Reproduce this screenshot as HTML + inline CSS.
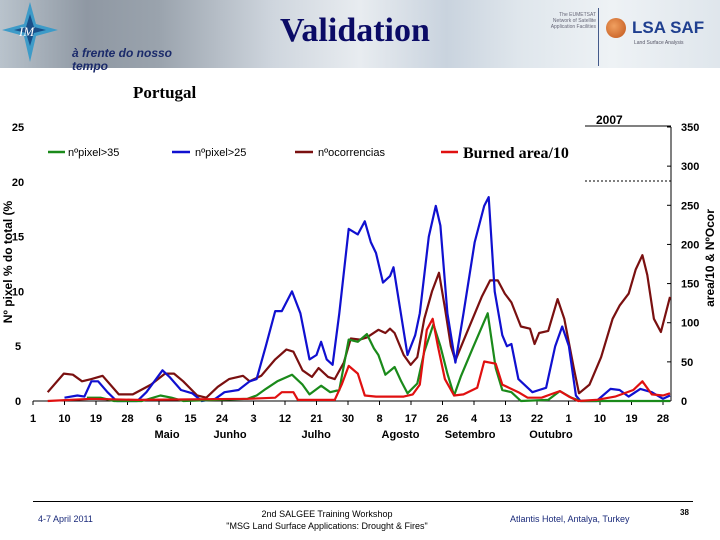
<!DOCTYPE html>
<html><head><meta charset="utf-8">
<style>
html,body{margin:0;padding:0;background:#fff;}
body{width:720px;height:540px;position:relative;overflow:hidden;font-family:"Liberation Sans",sans-serif;}
.abs{position:absolute;}
</style></head><body>
<div class="abs" style="left:0;top:0;width:720px;height:68px;background:linear-gradient(90deg,#b9c3cc 0%,#8f98a3 12%,#9aa3ad 22%,#cfd6de 38%,#e8ecf0 50%,#c9d3de 62%,#dfe6ec 72%,#eef2f5 85%,#dfe6ec 100%);"></div>
<svg class="abs" style="left:0;top:0" width="60" height="68">
<polygon points="30,2 36,24 58,30 36,36 30,62 24,36 2,30 24,24" fill="#3d9bc8"/>
<polygon points="30,14 34,27 46,30 34,33 30,46 26,33 14,30 26,27" fill="#1a4f88"/>
<text x="19" y="36" font-family="Liberation Serif" font-style="italic" font-size="13" fill="#fff">IM</text>
</svg>
<div class="abs" style="left:72px;top:47px;font-size:12px;font-style:italic;font-weight:bold;color:#1a2a6a;line-height:13px;">à frente do nosso<br>tempo</div>
<div class="abs" style="left:280px;top:12px;font-family:'Liberation Serif',serif;font-weight:bold;font-size:34px;color:#0b0b66;">Validation</div>
<div class="abs" style="left:540px;top:12px;width:56px;font-size:5px;color:#667;text-align:right;line-height:6px;">The EUMETSAT Network of Satellite Application Facilities</div>
<div class="abs" style="left:598px;top:8px;width:1px;height:58px;background:#445a8a;"></div>
<div class="abs" style="left:606px;top:18px;width:20px;height:20px;border-radius:50%;background:radial-gradient(circle at 40% 40%,#f0a060,#c0541a);"></div>
<div class="abs" style="left:632px;top:18px;font-size:17px;font-weight:bold;color:#1f3f8f;">LSA SAF</div>
<div class="abs" style="left:634px;top:40px;font-size:5px;color:#556;">Land Surface Analysis</div>
<div class="abs" style="left:133px;top:83px;font-family:'Liberation Serif',serif;font-weight:bold;font-size:17px;color:#000;">Portugal</div>

<svg id="chart" class="abs" style="left:0;top:0" width="720" height="460"></svg>

<div class="abs" style="left:33px;top:501px;width:660px;height:1px;background:#000;"></div>
<div class="abs" style="left:38px;top:514px;font-size:9px;color:#1a2a7a;">4-7 April 2011</div>
<div class="abs" style="left:200px;top:508px;width:254px;text-align:center;font-size:9px;color:#000;line-height:12px;">2nd SALGEE Training Workshop<br>"MSG Land Surface Applications: Drought &amp; Fires"</div>
<div class="abs" style="left:510px;top:514px;font-size:9px;color:#1a2a7a;">Atlantis Hotel, Antalya, Turkey</div>
<div class="abs" style="left:680px;top:508px;font-size:8px;font-weight:bold;color:#000;">38</div>

<script>
const xTickLabels=["1","10","19","28","6","15","24","3","12","21","30","8","17","26","4","13","22","1","10","19","28"];
const monthLabels=["Maio","Junho","Julho","Agosto","Setembro","Outubro"];
const monthDays=[38.3,56.3,80.9,105,124.9,148];
const leftTicks=[0,5,10,15,20,25];
const rightTicks=[0,50,100,150,200,250,300,350];
const blueDays=[9,12.7,14.7,16.7,18.6,21.3,23.9,29.8,32.4,37,39,42.3,45.5,48.2,52.1,54.7,58.7,61.9,63.9,66.5,69.2,71.1,74,76.4,79,81,82.3,83.9,85.6,87.5,90.2,92.8,94.8,96.5,98,100,102,103,104.6,107,109.2,110.5,113.1,115.1,116.4,118.4,120.7,123,126.2,128.9,130.2,131.9,134.1,135.4,136.7,138.7,142.7,144.6,146.6,149.2,151.2,153.1,155.1,156.4,161,165,167.6,170.2,173.5,176.8,180,182];
const blueVals=[0.3,0.5,0.4,1.8,1.8,0.8,0,0,0.8,2.8,2.2,1.0,0.7,0,0.2,0.8,1.0,1.8,2.0,5,8.2,8.2,10,8,3.8,4.2,5.4,3.8,3.3,8,15.7,15.2,16.4,14.5,13.5,10.8,11.4,12.2,9,4.2,6,8,15,17.8,16,8,3.5,8,14.5,17.8,18.6,10,6,5,5.2,2,0.8,1,1.2,5,6.8,5,0.5,0,0,1.1,1.0,0.4,1.1,0.8,0.2,0.5];
const greenDays=[15.4,19.3,23.2,31.1,36.4,39.6,42.9,61.3,63.9,66.5,69.8,74,77,79,82.3,84.9,87.5,90.2,92.8,95.4,97.4,98.7,100.7,103.3,105.2,107,109.8,111.8,114.4,116.4,118.4,120.3,122.3,125.6,129.9,132.2,134.1,136.7,139.4,147.2,150.5,153.8,156.4,182];
const greenVals=[0.3,0.3,0,0,0.5,0.3,0,0.2,0.5,1.1,1.8,2.4,1.5,0.6,1.4,0.8,1.0,5.6,5.4,6.1,4.8,4.2,2.4,3.1,1.8,0.7,1.6,4.5,7.0,5,2.5,0.5,2.3,4.8,8.0,3,1.0,0.8,0,0.1,0.9,0.3,0,0];
const occDays=[4.2,8.8,11.4,14,16.7,19.9,24.5,28.5,33.7,37.7,40.3,42.9,46.9,49.5,52.8,56,60,61.9,65.2,69.2,72.4,74.4,77,79.7,81.6,84.3,86.2,88.8,90.8,93.4,95.4,98.7,100.7,102,103.3,105.9,107.9,109.8,111.8,114,116,117.7,119.4,120.7,123,125.6,128.2,130.6,132.8,134.8,136.7,139.4,142,143.3,144.6,147.2,149.9,151.8,154.5,156,159,162.3,165.6,167.6,170.2,172.2,174.1,175.5,177.4,179.4,182];
const occVals=[0.8,2.5,2.4,1.8,2.0,2.3,0.6,0.6,1.5,2.5,2.5,1.8,0.5,0.3,1.3,2.0,2.3,1.8,2.3,3.8,4.7,4.5,2.8,2.2,3.0,2.2,2.0,3.5,5.7,5.6,5.8,6.5,6.2,6.6,6.2,4.2,3.3,4.0,7.5,10,11.7,8.5,5,3.7,5.5,7.5,9.5,11.0,11.0,9.8,9.0,6.8,6.6,5.2,6.2,6.4,9.3,7.5,3,0.7,1.5,4,7.5,8.7,9.8,12,13.3,11.5,7.5,6.3,9.5];
const burnDays=[4.2,16.7,29.8,61.3,69.2,71.1,74.4,75.7,86.2,88.2,90.2,92.8,94.8,98,105.9,108.5,110.5,112.5,114.2,115.7,117.7,120.3,123,126.9,128.9,132.2,134.1,138.7,141.3,145.3,147.9,150.5,153.1,155.8,161,166.3,171.5,174.1,176.8,180,182];
const burnVals=[0,0.2,0.1,0.2,0.3,0.8,0.8,0.1,0.1,1.5,3.2,2.5,0.5,0.4,0.4,0.6,1.5,6.5,7.5,5,2,0.5,0.6,1.2,3.6,3.4,1.5,0.8,0.3,0.3,0.6,0.9,0.4,0,0.1,0.4,1.0,1.8,0.6,0.5,0.7];

const NS="http://www.w3.org/2000/svg";
const svg=document.getElementById('chart');
const X=d=>33+3.5*d;
const Y=v=>401-v*10.96;
const YR=v=>401-v*(274/350);
function mk(tag,attrs,parent){const e=document.createElementNS(NS,tag);for(const k in attrs)e.setAttribute(k,attrs[k]);(parent||svg).appendChild(e);return e;}

let a=mk('line',{x1:X(0),y1:401,x2:X(182),y2:401,stroke:'#000','stroke-width':1});


a=mk('line',{x1:671,y1:127,x2:671,y2:401,stroke:'#000','stroke-width':1});


a=mk('line',{x1:585,y1:126,x2:671,y2:126,stroke:'#000','stroke-width':1});


a=mk('line',{x1:585,y1:181,x2:671,y2:181,stroke:'#000','stroke-width':1,'stroke-dasharray':'2,2'});


let t=mk('text',{x:596,y:124,'font-size':12,'font-weight':'bold'});t.textContent='2007';



leftTicks.forEach(v=>{const e=mk('text',{x:18,y:Y(v)+4,'font-size':11,'font-weight':'bold','text-anchor':'middle'});e.textContent=v;

});
rightTicks.forEach(v=>{const e=mk('text',{x:681,y:YR(v)+4,'font-size':11,'font-weight':'bold'});e.textContent=v;


const tk=mk('line',{x1:667,y1:YR(v),x2:671,y2:YR(v),stroke:'#000'});

});
xTickLabels.forEach((s,i)=>{const d=i*9;const e=mk('text',{x:X(d),y:422,'font-size':11,'font-weight':'bold','text-anchor':'middle'});e.textContent=s;


const tk=mk('line',{x1:X(d),y1:401,x2:X(d),y2:405,stroke:'#000'});

});
monthLabels.forEach((s,i)=>{const e=mk('text',{x:X(monthDays[i]),y:438,'font-size':11,'font-weight':'bold','text-anchor':'middle'});e.textContent=s;

});

t=mk('text',{x:0,y:0,'font-size':12,'font-weight':'bold','text-anchor':'middle',transform:'translate(12,262) rotate(-90)'});t.textContent='Nº pixel % do total (%';


t=mk('text',{x:0,y:0,'font-size':12,'font-weight':'bold','text-anchor':'middle',transform:'translate(714,258) rotate(-90)'});t.textContent='area/10  &  NºOcor';



function series(days,vals,color,name){const pts=days.map((d,i)=>X(d).toFixed(1)+','+Y(vals[i]).toFixed(1)).join(' ');
const p=mk('polyline',{points:pts,fill:'none',stroke:color,'stroke-width':2.2,'stroke-linejoin':'round'});

}
series(occDays,occVals,'#7a1010','series-ocorrencias');
series(blueDays,blueVals,'#1010d0','series-pixel-25');
series(greenDays,greenVals,'#1a8a1a','series-pixel-35');
series(burnDays,burnVals,'#e01010','series-burned-area');

function legend(x1,x2,color,label,tx,name,serif){const l=mk('line',{x1:x1,y1:152,x2:x2,y2:152,stroke:color,'stroke-width':2.5});


const e=mk('text',serif?{x:tx,y:158,'font-size':16,'font-weight':'bold','font-family':'Liberation Serif'}:{x:tx,y:156,'font-size':11});e.textContent=label;

}
legend(48,65,'#1a8a1a','nºpixel>35',68,'legend-pixel-35');
legend(172,190,'#1010d0','nºpixel>25',195,'legend-pixel-25');
legend(295,313,'#7a1010','nºocorrencias',318,'legend-ocorrencias');
legend(441,458,'#e01010','Burned area/10',463,'legend-burned-area',true);
</script>
</body></html>
